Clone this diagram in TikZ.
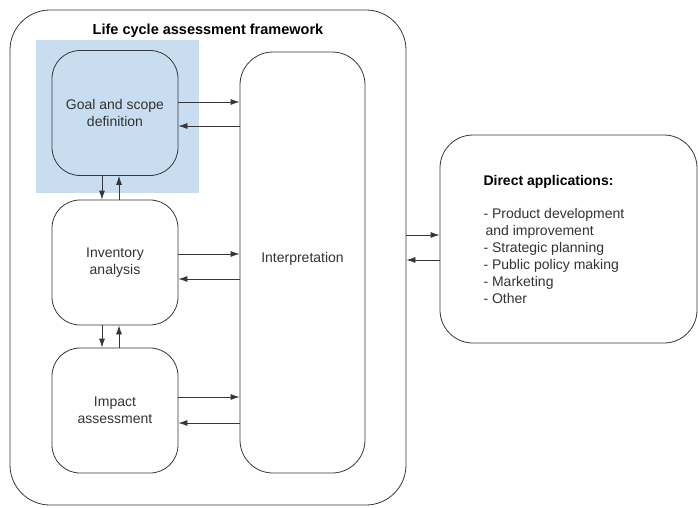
\documentclass[tikz,border=0pt]{standalone}
\usepackage{fontspec}
\setmainfont{Liberation Sans}
\usetikzlibrary{arrows.meta}
\usetikzlibrary{positioning}
\usetikzlibrary{calc}

\definecolor{lineGray}{RGB}{55,55,55}
\definecolor{textGray}{RGB}{50,50,50}
\definecolor{hlBlue}{RGB}{200,221,239}

\tikzset{
	stage/.style={draw=lineGray, line width=0.8pt, rounded corners=28pt, inner sep=0pt,
		align=center, text=textGray, minimum width=126pt, minimum height=125pt},
	flow/.style={draw=lineGray, line width=0.8pt, -{Latex[length=9pt,width=6pt]}}
}

\begin{document}
\begin{tikzpicture}[x=1pt, y=-1pt, font=\fontsize{14pt}{17pt}\selectfont]
	\useasboundingbox (0,0) rectangle (698,508);

	% framework frame and highlight
	\node[draw=lineGray, line width=0.8pt, rounded corners=40pt, minimum width=396pt, minimum height=495pt] (frame) at (208, 257.5) {};
	\node[below=11pt of frame.north, font=\fontsize{14.5pt}{17pt}\selectfont\bfseries, text=black] (title) {Life cycle assessment framework};
	\node[fill=hlBlue, minimum width=163pt, minimum height=153pt, inner sep=0pt] (hl) at (117.5, 116.5) {};

	% stages
	\node[stage, fill=hlBlue] (goal) at (115, 113) {Goal and scope\\definition};
	\node[stage] (inv) at (115, 262.5) {Inventory\\analysis};
	\node[stage] (imp) at (115, 410.5) {Impact\\assessment};
	\node[stage, rounded corners=33pt, minimum width=125pt, minimum height=421pt] (interp) at (302.5, 262.5) {};
	\node[text=textGray] (interpLabel) at (302.5, 259) {Interpretation};

	% applications
	\node[draw=lineGray, line width=0.8pt, rounded corners=33pt, minimum width=257pt, minimum height=208pt] (apps) at (568.5, 239) {};
	\node[anchor=west, align=left, text=textGray] (appsList) at (480, 239) {{\bfseries\color{black}Direct applications:}\\[16pt]
		- Product development\\
		\hspace*{2pt}and improvement\\
		- Strategic planning\\
		- Public policy making\\
		- Marketing\\
		- Other};

	% stage <-> interpretation
	\draw[flow] ([yshift=11pt]goal.east) -- ([yshift=11pt]goal.east -| interp.west);
	\draw[flow] ([yshift=-13pt]goal.east -| interp.west) -- ([yshift=-13pt]goal.east);
	\draw[flow] ([yshift=8.5pt]inv.east) -- ([yshift=8.5pt]inv.east -| interp.west);
	\draw[flow] ([yshift=-16.5pt]inv.east -| interp.west) -- ([yshift=-16.5pt]inv.east);
	\draw[flow] ([yshift=13.5pt]imp.east) -- ([yshift=13.5pt]imp.east -| interp.west);
	\draw[flow] ([yshift=-12.5pt]imp.east -| interp.west) -- ([yshift=-12.5pt]imp.east);

	% stage <-> stage
	\draw[flow] ([xshift=-13pt]goal.south) -- ([xshift=-13pt]inv.north);
	\draw[flow] ([xshift=4pt]inv.north) -- ([xshift=4pt]goal.south);
	\draw[flow] ([xshift=-13pt]inv.south) -- ([xshift=-13pt]imp.north);
	\draw[flow] ([xshift=4pt]imp.north) -- ([xshift=4pt]inv.south);

	% framework <-> applications
	\draw[flow] ([yshift=4pt]apps.west -| frame.east) -- ([yshift=4pt]apps.west);
	\draw[flow] ([yshift=-21pt]apps.west) -- ([yshift=-21pt]apps.west -| frame.east);
\end{tikzpicture}
\end{document}
